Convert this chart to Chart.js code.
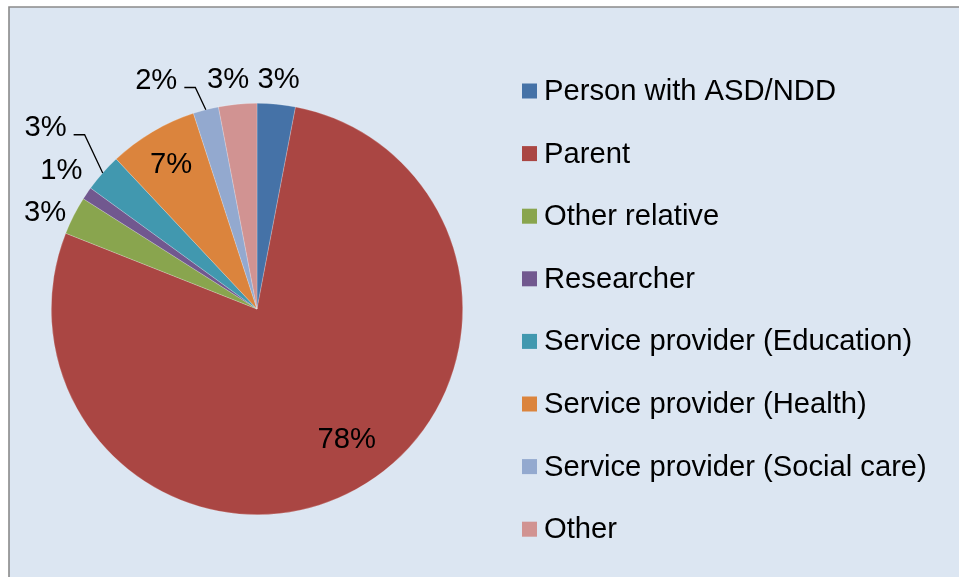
<!DOCTYPE html>
<html>
<head>
<meta charset="utf-8">
<script src="https://cdn.jsdelivr.net/npm/chart.js@4/dist/chart.umd.min.js"></script>
<style>
  html, body { margin: 0; padding: 0; background: #ffffff; }
  canvas { display: block; }
</style>
</head>
<body>
<canvas id="respondents" width="959" height="577"></canvas>
<script>
// Respondent groups and their share of responses (%)
const categories = [
  "Person with ASD/NDD",
  "Parent",
  "Other relative",
  "Researcher",
  "Service provider (Education)",
  "Service provider (Health)",
  "Service provider (Social care)",
  "Other"
];
const shares = [3, 78, 3, 1, 3, 7, 2, 3];
const sliceColors = [
  "#4572a7", "#aa4643", "#89a54e", "#71588f",
  "#4198af", "#db843d", "#93a9cf", "#d19392"
];

const FONT = '"Liberation Sans", Arial, sans-serif';
const TEXT_SIZE = 29.2;

// Where each percentage label sits: radius as a multiple of the pie radius,
// angular nudge (degrees) from the slice middle, and whether a leader line is drawn.
const labelPlacement = [
  { r: 1.117, nudge: 0,    leader: false },
  { r: 0.77,  nudge: -5.7, leader: false },
  { r: 1.131, nudge: -2.6, leader: false },
  { r: 1.165, nudge: 1.1,  leader: false },
  { r: 1.354, nudge: -0.8, leader: true  },
  { r: 0.815, nudge: -0.2, leader: false },
  { r: 1.214, nudge: -9.4, leader: true  },
  { r: 1.121, nudge: -1.8, leader: false }
];

const panelBackground = {
  id: "panelBackground",
  beforeDraw(chart) {
    const ctx = chart.ctx;
    ctx.save();
    ctx.fillStyle = "#ffffff";
    ctx.fillRect(0, 0, chart.width, chart.height);
    ctx.fillStyle = "#dce6f2";
    ctx.fillRect(9, 7, chart.width, chart.height);
    ctx.strokeStyle = "#8a8a8a";
    ctx.lineWidth = 1.6;
    ctx.beginPath();
    ctx.moveTo(9, chart.height + 2);
    ctx.lineTo(9, 7);
    ctx.lineTo(chart.width + 2, 7);
    ctx.stroke();
    ctx.restore();
  }
};

const percentLabels = {
  id: "percentLabels",
  afterDatasetsDraw(chart) {
    const ctx = chart.ctx;
    const meta = chart.getDatasetMeta(0);
    const values = chart.data.datasets[0].data;
    const total = values.reduce((a, b) => a + b, 0);
    ctx.save();
    ctx.font = TEXT_SIZE + "px " + FONT;
    ctx.fillStyle = "#000000";
    ctx.textAlign = "center";
    ctx.textBaseline = "middle";
    ctx.strokeStyle = "#000000";
    ctx.lineWidth = 1.3;
    meta.data.forEach((arc, i) => {
      const p = arc.getProps(["x", "y", "startAngle", "endAngle", "outerRadius"], true);
      const mid = (p.startAngle + p.endAngle) / 2;
      const spec = labelPlacement[i];
      const a = mid + spec.nudge * Math.PI / 180;
      const tx = p.x + spec.r * p.outerRadius * Math.cos(a);
      const ty = p.y + spec.r * p.outerRadius * Math.sin(a);
      const text = Math.round(values[i] / total * 100) + "%";
      ctx.fillText(text, tx, ty);
      if (spec.leader) {
        const w = ctx.measureText(text).width;
        const ex = p.x + p.outerRadius * Math.cos(mid);
        const ey = p.y + p.outerRadius * Math.sin(mid);
        const hy = ty + 7;
        const hx0 = tx + w / 2 + 7;
        ctx.beginPath();
        ctx.moveTo(ex, ey);
        ctx.lineTo(hx0 + 11, hy);
        ctx.lineTo(hx0, hy);
        ctx.stroke();
      }
    });
    ctx.restore();
  }
};

const sideLegend = {
  id: "sideLegend",
  afterDraw(chart) {
    const ctx = chart.ctx;
    const ds = chart.data.datasets[0];
    ctx.save();
    ctx.font = TEXT_SIZE + "px " + FONT;
    ctx.textAlign = "left";
    ctx.textBaseline = "middle";
    chart.data.labels.forEach((label, i) => {
      const cy = 91 + i * 62.6;
      ctx.fillStyle = ds.backgroundColor[i];
      ctx.fillRect(522, cy - 7.5, 15, 15);
      ctx.fillStyle = "#000000";
      ctx.fillText(label, 544, cy + 1);
    });
    ctx.restore();
  }
};

new Chart(document.getElementById("respondents"), {
  type: "pie",
  data: {
    labels: categories,
    datasets: [{
      data: shares,
      backgroundColor: sliceColors,
      borderColor: "rgba(255,255,255,0.35)",
      borderWidth: 0.6
    }]
  },
  options: {
    responsive: false,
    animation: false,
    layout: { padding: { left: 51, top: 103, right: 496, bottom: 62 } },
    plugins: {
      legend: { display: false },
      tooltip: { enabled: false }
    }
  },
  plugins: [panelBackground, percentLabels, sideLegend]
});
</script>
</body>
</html>
